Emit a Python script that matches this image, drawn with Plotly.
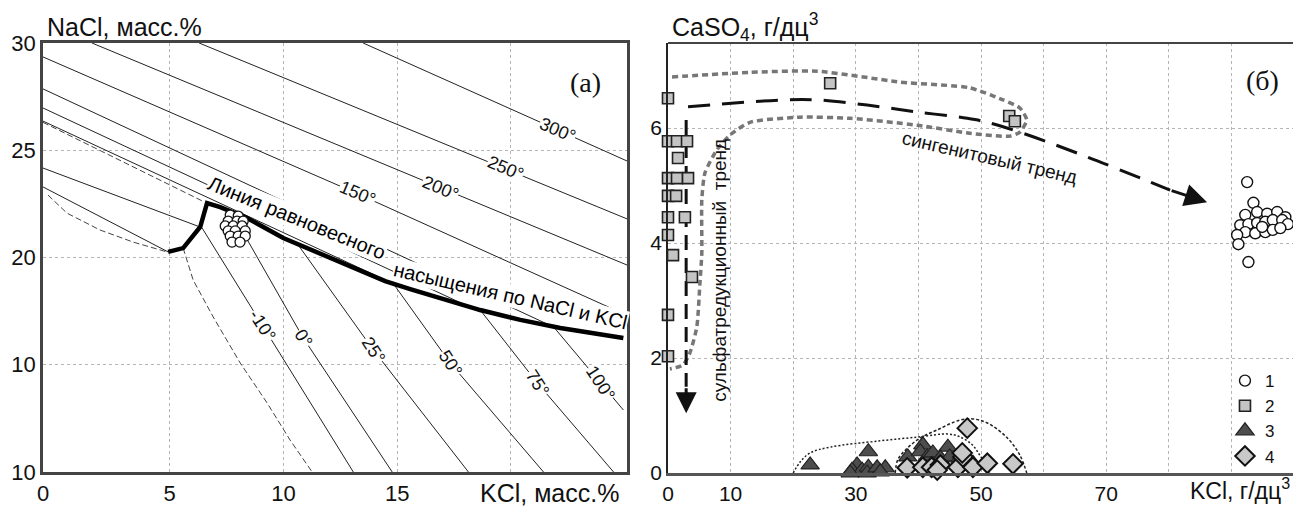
import plotly.graph_objects as go

# ---------------- Panel (а): NaCl vs KCl, mass % ----------------
# thick equilibrium saturation line (KCl, NaCl)
sat_x = [4.93, 5.59, 6.34, 6.64, 7.22, 8.40, 9.99, 12.05, 13.37, 14.47, 15.57, 16.76, 18.65, 20.41, 22.17, 24.94]
sat_y = [20.26, 20.44, 21.42, 22.54, 22.35, 21.84, 20.91, 19.98, 19.37, 18.90, 18.53, 18.16, 17.55, 17.09, 16.71, 16.25]

# upper (NaCl) isotherms
iso_up = {
    "300": ([13.5, 25.1], [30.0, 24.5]),
    "250": ([6.29, 25.1], [30.0, 21.8]),
    "200": ([1.58, 25.1], [30.0, 19.65]),
    "150": ([-0.57, 13.2, 25.1], [29.35, 23.0, 17.3]),
    "100": ([-0.57, 21.87], [27.86, 16.76]),
    "75": ([-0.57, 18.65], [26.97, 17.46]),
    "50": ([-0.57, 14.83], [26.36, 18.78]),
    "25": ([-0.57, 6.34], [24.17, 21.42]),
    "0": ([-0.57, 4.93], [23.29, 20.26]),
}
# lower (KCl) isotherms
iso_low = {
    "-10": ([6.42, 9.06, 13.07], [21.38, 16.85, 10.0]),
    "0": ([7.74, 10.87, 14.78], [22.07, 16.25, 10.0]),
    "25": ([10.65, 13.95, 18.13], [20.58, 15.69, 10.0]),
    "50": ([14.83, 17.33, 21.43], [18.78, 15.08, 10.0]),
    "75": ([18.65, 21.16, 24.51], [17.55, 14.15, 10.0]),
    "100": ([21.87, 23.93, 24.94], [16.77, 14.15, 12.89]),
}
dash_a_x = [-0.35, 0.48, 1.94, 3.39, 4.88]
dash_a_y = [22.91, 22.07, 21.28, 20.72, 20.26]
dash_b_x = [5.59, 6.03, 6.91, 8.10, 9.28, 10.29, 11.26]
dash_b_y = [20.44, 18.95, 17.23, 15.08, 13.22, 11.49, 10.0]
dash_c_x = [-0.57, 6.5]
dash_c_y = [26.3, 22.6]

# fluid inclusion points
incl_x = [7.66, 8.01, 7.57, 7.96, 8.23, 7.44, 7.79, 8.18, 7.57, 7.88, 8.32, 7.66, 8.01, 8.32, 7.74, 8.09]
incl_y = [21.98, 21.93, 21.70, 21.70, 21.70, 21.47, 21.47, 21.47, 21.24, 21.24, 21.24, 21.0, 21.0, 21.0, 20.72, 20.72]

up_labels = [("300°", 22.04, 25.94), ("250°", 19.75, 24.17), ("200°", 16.89, 23.24), ("150°", 13.24, 23.0)]
low_labels = [("-10°", 9.06, 16.85), ("0°", 10.87, 16.25), ("25°", 13.95, 15.69),
              ("50°", 17.33, 15.08), ("75°", 21.16, 14.15), ("100°", 23.93, 14.15)]

a_xticks = [-0.57, 5, 10, 15, 20]
a_xticktext = ["0", "5", "10", "15", ""]
a_yticks = [30, 25, 20, 15, 10]
a_yticktext = ["30", "25", "20", "10", "10"]

# ---------------- Panel (б): CaSO4 vs KCl, g/dm3 ----------------
s1_x = [92.5, 93.5, 92.2, 94.1, 95.7, 97.3, 98.6, 91.4, 92.7, 94.1, 95.4, 96.6, 98.1, 99.0,
        92.2, 93.8, 95.4, 96.6, 90.9, 91.1, 92.7, 94.9, 97.8]
s1_y = [5.06, 4.70, 4.49, 4.54, 4.51, 4.54, 4.45, 4.31, 4.33, 4.35, 4.37, 4.40, 4.40, 4.33,
        4.19, 4.17, 4.19, 4.23, 4.14, 3.98, 3.67, 4.28, 4.26]

s2_x = [0.0, 0.0, 1.44, 3.04, 1.6, 0.0, 1.44, 3.2, 0.0, 1.3, 0.0, 2.7, 0.0, 0.8, 3.83, 0.0, 0.0,
        25.9, 54.5, 55.4]
s2_y = [6.52, 5.77, 5.77, 5.77, 5.48, 5.13, 5.13, 5.13, 4.82, 4.82, 4.45, 4.45, 4.14, 3.79, 3.41,
        2.75, 2.03, 6.78, 6.21, 6.12]

s3_x = [22.7, 32.0, 30.2, 29.4, 31.0, 32.0, 29.1, 31.8, 33.4, 34.7, 33.9, 38.3, 40.7, 40.3, 41.4,
        42.3, 44.7, 43.5, 45.0, 46.6, 48.7]
s3_y = [0.14, 0.37, 0.14, 0.05, 0.05, 0.10, 0.0, 0.0, 0.09, 0.09, 0.02, 0.28, 0.49, 0.37, 0.28,
        0.35, 0.45, 0.26, 0.28, 0.26, 0.17]

s4_x = [47.8, 38.2, 40.7, 42.1, 43.5, 46.3, 47.1, 48.7, 51.0, 55.1, 47.0, 43.0]
s4_y = [0.78, 0.09, 0.10, 0.10, 0.14, 0.10, 0.28, 0.10, 0.17, 0.16, 0.35, 0.05]

env_x = [0.64, 13.1, 23.8, 37.1, 48.2, 53.5, 56.2, 57.3, 56.2, 54.6, 48.2, 39.8, 29.1, 21.1, 13.1,
         9.9, 7.8, 5.9, 5.4, 5.4, 5.1, 4.6, 3.5, 2.4, 0.3]
env_y = [6.89, 6.97, 6.99, 6.80, 6.70, 6.49, 6.35, 6.14, 5.93, 5.86, 5.91, 6.05, 6.17, 6.19, 6.10,
         5.88, 5.62, 5.22, 4.75, 3.83, 3.30, 2.54, 2.09, 1.88, 1.81]

syn_x = [3.2, 18.4, 23.8, 31.8, 39.8, 47.8, 51.0, 56.7, 66.9, 80.2]
syn_y = [6.37, 6.49, 6.49, 6.40, 6.28, 6.17, 6.10, 5.91, 5.50, 4.92]
syn_tip = (86.1, 4.71)

sul_x = [2.9, 2.9]
sul_y = [6.14, 1.5]
sul_tip = (2.9, 1.04)

tri_env_x = [20.0, 21.1, 22.7, 25.9, 33.9, 40.3, 44.6, 46.6, 48.6, 49.8, 51.0, 51.4]
tri_env_y = [0.0, 0.19, 0.35, 0.45, 0.56, 0.63, 0.68, 0.63, 0.49, 0.31, 0.10, 0.0]
dia_env_x = [36.3, 36.7, 38.2, 40.3, 43.0, 46.6, 48.7, 51.0, 54.2, 56.2, 57.3]
dia_env_y = [0.0, 0.23, 0.43, 0.61, 0.75, 0.92, 0.94, 0.87, 0.61, 0.31, 0.0]

b_xticks = [0, 10, 20, 30, 40, 50, 60, 70, 80, 90, 100]
b_xticktext = ["0", "10", "", "30", "", "50", "", "70", "", "", ""]
b_yticks = [0, 2, 4, 6]

SANS = "Liberation Sans, Arial, sans-serif"
SERIF = "Liberation Serif, Times New Roman, serif"

fig = go.Figure()

# ---- panel a traces
for k, (xs, ys) in iso_up.items():
    fig.add_trace(go.Scatter(x=xs, y=ys, mode="lines", line=dict(color="#222", width=1),
                             showlegend=False, hoverinfo="skip", xaxis="x", yaxis="y"))
for k, (xs, ys) in iso_low.items():
    fig.add_trace(go.Scatter(x=xs, y=ys, mode="lines", line=dict(color="#222", width=1),
                             showlegend=False, hoverinfo="skip", xaxis="x", yaxis="y"))
for xs, ys in [(dash_a_x, dash_a_y), (dash_b_x, dash_b_y), (dash_c_x, dash_c_y)]:
    fig.add_trace(go.Scatter(x=xs, y=ys, mode="lines", line=dict(color="#444", width=1, dash="6px,3px"),
                             showlegend=False, hoverinfo="skip", xaxis="x", yaxis="y"))
fig.add_trace(go.Scatter(x=sat_x, y=sat_y, mode="lines", line=dict(color="#000", width=4.5),
                         showlegend=False, hoverinfo="skip", xaxis="x", yaxis="y"))
fig.add_trace(go.Scatter(x=incl_x, y=incl_y, mode="markers",
                         marker=dict(symbol="circle", size=10, color="white", line=dict(color="#111", width=1.3)),
                         showlegend=False, xaxis="x", yaxis="y"))

# ---- panel b traces
fig.add_trace(go.Scatter(x=env_x, y=env_y, mode="lines",
                         line=dict(color="#777", width=3.5, dash="6px,4px", shape="spline", smoothing=0.6),
                         showlegend=False, hoverinfo="skip", xaxis="x2", yaxis="y2"))
fig.add_trace(go.Scatter(x=tri_env_x, y=tri_env_y, mode="lines",
                         line=dict(color="#222", width=1.5, dash="2px,2px", shape="spline"),
                         showlegend=False, hoverinfo="skip", xaxis="x2", yaxis="y2"))
fig.add_trace(go.Scatter(x=dia_env_x, y=dia_env_y, mode="lines",
                         line=dict(color="#222", width=1.5, dash="3px,2px", shape="spline"),
                         showlegend=False, hoverinfo="skip", xaxis="x2", yaxis="y2"))
fig.add_trace(go.Scatter(x=syn_x, y=syn_y, mode="lines",
                         line=dict(color="#111", width=3, dash="22px,12px", shape="spline"),
                         showlegend=False, hoverinfo="skip", xaxis="x2", yaxis="y2"))
fig.add_trace(go.Scatter(x=sul_x, y=sul_y, mode="lines",
                         line=dict(color="#111", width=3, dash="15px,8px"),
                         showlegend=False, hoverinfo="skip", xaxis="x2", yaxis="y2"))

fig.add_trace(go.Scatter(x=s1_x, y=s1_y, mode="markers", name="1", cliponaxis=False,
                         marker=dict(symbol="circle", size=11, color="white", line=dict(color="#111", width=1.4)),
                         xaxis="x2", yaxis="y2"))
fig.add_trace(go.Scatter(x=s2_x, y=s2_y, mode="markers", name="2", cliponaxis=False,
                         marker=dict(symbol="square", size=11, color="#c4c4c4", line=dict(color="#222", width=1.6)),
                         xaxis="x2", yaxis="y2"))
fig.add_trace(go.Scatter(x=s3_x, y=s3_y, mode="markers", name="3", cliponaxis=False,
                         marker=dict(symbol="triangle-up", size=16, color="#4d4d4d", line=dict(color="#222", width=1.2)),
                         xaxis="x2", yaxis="y2"))
fig.add_trace(go.Scatter(x=s4_x, y=s4_y, mode="markers", name="4", cliponaxis=False,
                         marker=dict(symbol="diamond", size=15, color="#c8c8c8", line=dict(color="#111", width=2)),
                         xaxis="x2", yaxis="y2"))

ann = []
for t, x, y in up_labels:
    ann.append(dict(x=x, y=y, xref="x", yref="y", text=t, showarrow=False, textangle=23,
                    font=dict(family=SANS, size=18, color="#111"), bgcolor="white", borderpad=0))
for t, x, y in low_labels:
    ann.append(dict(x=x, y=y, xref="x", yref="y", text=t, showarrow=False, textangle=57,
                    font=dict(family=SANS, size=18, color="#111"), bgcolor="white", borderpad=0))
ann.append(dict(x=10.6, y=21.85, xref="x", yref="y", text="Линия равновесного", showarrow=False,
                textangle=22, font=dict(family=SANS, size=20, color="#000"), bgcolor="white", borderpad=0))
ann.append(dict(x=20.0, y=18.2, xref="x", yref="y", text="насыщения по NaCl и KCl", showarrow=False,
                textangle=13, font=dict(family=SANS, size=20, color="#000"), bgcolor="white", borderpad=0))
ann.append(dict(x=23.27, y=28.18, xref="x", yref="y", text="(а)", showarrow=False,
                font=dict(family=SERIF, size=28, color="#111")))
ann.append(dict(x=94.9, y=6.82, xref="x2", yref="y2", text="(б)", showarrow=False,
                font=dict(family=SERIF, size=28, color="#111")))
ann.append(dict(x=51.3, y=5.48, xref="x2", yref="y2", text="сингенитовый тренд", showarrow=False,
                textangle=13, font=dict(family=SANS, size=19, color="#111")))
ann.append(dict(x=8.1, y=3.53, xref="x2", yref="y2", text="сульфатредукционный  тренд", showarrow=False,
                textangle=-90, font=dict(family=SANS, size=19, color="#111")))
# arrow heads
ann.append(dict(x=syn_tip[0], y=syn_tip[1], ax=syn_x[-1], ay=syn_y[-1], xref="x2", yref="y2",
                axref="x2", ayref="y2", text="", showarrow=True, arrowhead=2, arrowsize=1.5,
                arrowwidth=3, arrowcolor="#111", standoff=0))
ann.append(dict(x=sul_tip[0], y=sul_tip[1], ax=sul_x[-1], ay=sul_y[-1], xref="x2", yref="y2",
                axref="x2", ayref="y2", text="", showarrow=True, arrowhead=2, arrowsize=1.4,
                arrowwidth=3, arrowcolor="#111", standoff=0))
# axis titles
ann.append(dict(x=0.0286, y=0.9618, xref="paper", yref="paper", text="NaCl, масс.%", showarrow=False,
                xanchor="left", yanchor="middle", font=dict(family=SANS, size=25, color="#111")))
ann.append(dict(x=0.4741, y=0.0261, xref="paper", yref="paper", text="KCl, масс.%", showarrow=False,
                xanchor="right", yanchor="middle", font=dict(family=SANS, size=25, color="#111")))
ann.append(dict(x=0.512, y=0.9618, xref="paper", yref="paper", text="CaSO<sub>4</sub>, г/дц<sup>3</sup>",
                showarrow=False, xanchor="left", yanchor="middle", font=dict(family=SANS, size=25, color="#111")))
ann.append(dict(x=0.993, y=0.034, xref="paper", yref="paper", text="KCl, г/дц<sup>3</sup>", showarrow=False,
                xanchor="right", yanchor="middle", font=dict(family=SANS, size=23, color="#111")))

grid = dict(showgrid=True, gridcolor="#b5b5b5", griddash="dot", gridwidth=1, zeroline=False, ticks="",
            automargin=False)

fig.update_layout(
    width=1293, height=498, margin=dict(l=0, r=0, t=0, b=0, autoexpand=False),
    paper_bgcolor="white", plot_bgcolor="white",
    font=dict(family=SANS, color="#111"),
    xaxis=dict(domain=[0.02707, 0.47873], range=[-0.57, 25.1], tickvals=a_xticks, ticktext=a_xticktext,
               showline=True, linecolor="#444", linewidth=2.5, mirror=True,
               tickfont=dict(size=22), **grid),
    yaxis=dict(domain=[0.06827, 0.92972], range=[10, 30], tickvals=a_yticks, ticktext=a_yticktext,
               showline=True, linecolor="#444", linewidth=2.5, mirror=True,
               tickfont=dict(size=22), **grid),
    xaxis2=dict(domain=[0.51044, 1.0], range=[0, 101.1], tickvals=b_xticks, ticktext=b_xticktext,
                showline=True, linecolor="#555", linewidth=3, anchor="y2",
                tickfont=dict(size=21), **grid),
    yaxis2=dict(domain=[0.06627, 0.92972], range=[0, 7.48], tickvals=b_yticks,
                showline=True, linecolor="#222", linewidth=1.5, anchor="x2",
                tickfont=dict(size=21), **grid),
    annotations=ann,
    shapes=[dict(type="line", xref="x2 domain", yref="y2 domain", x0=0, x1=1, y0=1, y1=1,
                 line=dict(color="#444", width=2))],
    legend=dict(x=0.9412, y=0.287, xanchor="left", yanchor="top", bgcolor="rgba(0,0,0,0)",
                font=dict(family=SANS, size=17, color="#111"), itemwidth=30, tracegroupgap=0),
)

fig.write_html("out.html")
